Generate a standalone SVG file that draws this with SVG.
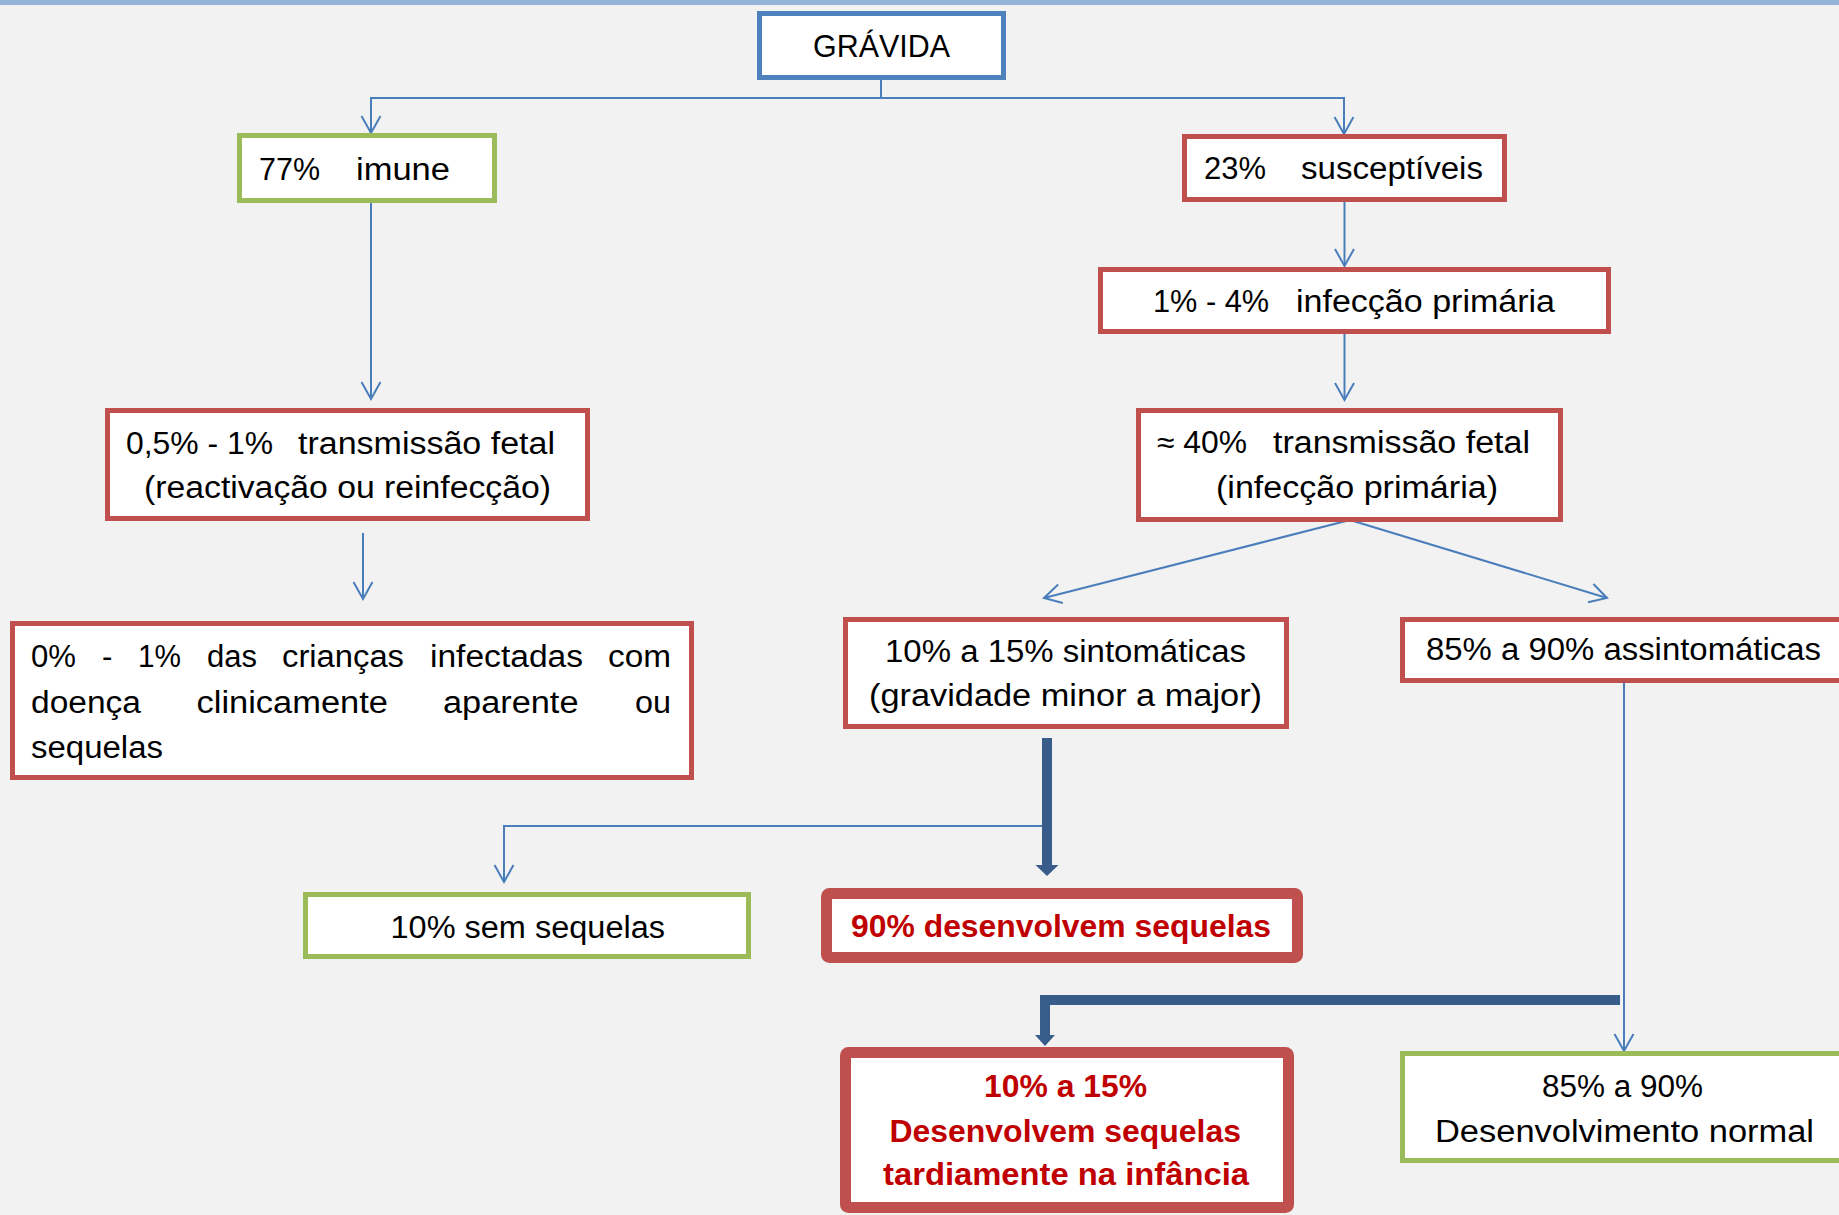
<svg xmlns="http://www.w3.org/2000/svg" width="1839" height="1215" viewBox="0 0 1839 1215">
<style>
text{font-family:"Liberation Sans",Arial,sans-serif;font-size:31px;fill:#000}
.b{font-weight:bold;fill:#C00000}
.box{fill:#fff;stroke-width:5}
.blue{stroke:#4F81BD}
.red{stroke:#C0504D}
.green{stroke:#9BBB59}
.thickred{fill:#fff;stroke:#C0504D;stroke-width:11}
.thin{fill:none;stroke:#4A7EBB;stroke-width:2}
.thick{fill:none;stroke:#385D8A;stroke-width:10}
</style>
<defs>
<marker id="open" markerUnits="userSpaceOnUse" viewBox="-20 -12 22 24" markerWidth="22" markerHeight="24" refX="0" refY="0" orient="auto" overflow="visible">
<path d="M-17,-9.5 L0,0 L-17,9.5" fill="none" stroke="#4A7EBB" stroke-width="2"/>
</marker>
</defs>
<rect x="0" y="0" width="1839" height="1215" fill="#F2F2F2"/>
<rect x="0" y="0" width="1839" height="5" fill="#95B3D7"/>

<g id="connectors">
<path class="thin" d="M881,80 V98"/>
<path class="thin" d="M881,98 H371 V133" marker-end="url(#open)"/>
<path class="thin" d="M881,98 H1344 V134" marker-end="url(#open)"/>
<path class="thin" d="M371,203 V399" marker-end="url(#open)"/>
<path class="thin" d="M1344.5,202 V266" marker-end="url(#open)"/>
<path class="thin" d="M1344.5,334 V400" marker-end="url(#open)"/>
<path class="thin" d="M363,533 V599" marker-end="url(#open)"/>
<path class="thin" d="M1350,520 L1044,598" marker-end="url(#open)"/>
<path class="thin" d="M1350,520 L1607,598" marker-end="url(#open)"/>
<path class="thin" d="M1047,826 H504 V882" marker-end="url(#open)"/>
<path class="thin" d="M1624,683 V1051" marker-end="url(#open)"/>
<path class="thick" d="M1047,738 V866"/>
<polygon points="1035.5,865 1058.5,865 1047,876" fill="#385D8A"/>
<path class="thick" d="M1620,1000 H1045 V1036" stroke-linecap="butt"/>
<polygon points="1035,1035 1055,1035 1045,1046" fill="#385D8A"/>
</g>

<g id="gravida">
<rect class="box blue" x="759.5" y="13.5" width="244" height="64"/>
<text x="813" y="57" textLength="137" lengthAdjust="spacingAndGlyphs">GRÁVIDA</text>
</g>
<g id="imune">
<rect class="box green" x="239.5" y="135.5" width="255" height="65"/>
<text x="259" y="180" textLength="61" lengthAdjust="spacingAndGlyphs">77%</text>
<text x="356" y="180" textLength="94" lengthAdjust="spacingAndGlyphs">imune</text>
</g>
<g id="susceptiveis">
<rect class="box red" x="1184.5" y="136.5" width="320" height="63"/>
<text x="1204" y="179" textLength="62" lengthAdjust="spacingAndGlyphs">23%</text>
<text x="1301" y="179" textLength="182" lengthAdjust="spacingAndGlyphs">susceptíveis</text>
</g>
<g id="infeccao">
<rect class="box red" x="1100.5" y="269.5" width="508" height="62"/>
<text x="1153" y="312" textLength="116" lengthAdjust="spacingAndGlyphs">1% - 4%</text>
<text x="1296" y="312" textLength="259" lengthAdjust="spacingAndGlyphs">infecção primária</text>
</g>
<g id="transmissao-reactivacao">
<rect class="box red" x="107.5" y="410.5" width="480" height="108"/>
<text x="126" y="454" textLength="147" lengthAdjust="spacingAndGlyphs">0,5% - 1%</text>
<text x="298" y="454" textLength="257" lengthAdjust="spacingAndGlyphs">transmissão fetal</text>
<text x="144" y="498" textLength="407" lengthAdjust="spacingAndGlyphs">(reactivação ou reinfecção)</text>
</g>
<g id="criancas">
<rect class="box red" x="12.5" y="623.5" width="679" height="154"/>
<text x="31" y="667" textLength="45" lengthAdjust="spacingAndGlyphs">0%</text>
<text x="102" y="667">-</text>
<text x="138" y="667" textLength="43" lengthAdjust="spacingAndGlyphs">1%</text>
<text x="207" y="667" textLength="50" lengthAdjust="spacingAndGlyphs">das</text>
<text x="282" y="667" textLength="122" lengthAdjust="spacingAndGlyphs">crianças</text>
<text x="430" y="667" textLength="153" lengthAdjust="spacingAndGlyphs">infectadas</text>
<text x="608" y="667" textLength="63" lengthAdjust="spacingAndGlyphs">com</text>
<text x="31" y="713" textLength="110" lengthAdjust="spacingAndGlyphs">doença</text>
<text x="196.5" y="713" textLength="191.5" lengthAdjust="spacingAndGlyphs">clinicamente</text>
<text x="443" y="713" textLength="135.5" lengthAdjust="spacingAndGlyphs">aparente</text>
<text x="635" y="713" textLength="36" lengthAdjust="spacingAndGlyphs">ou</text>
<text x="31" y="758" textLength="132" lengthAdjust="spacingAndGlyphs">sequelas</text>
</g>
<g id="transmissao-primaria">
<rect class="box red" x="1138.5" y="410.5" width="422" height="109"/>
<text x="1157" y="453" textLength="90" lengthAdjust="spacingAndGlyphs">≈ 40%</text>
<text x="1273" y="453" textLength="257" lengthAdjust="spacingAndGlyphs">transmissão fetal</text>
<text x="1216" y="498" textLength="282" lengthAdjust="spacingAndGlyphs">(infecção primária)</text>
</g>
<g id="sintomaticas">
<rect class="box red" x="845.5" y="619.5" width="441" height="107"/>
<text x="885" y="662" textLength="361" lengthAdjust="spacingAndGlyphs">10% a 15% sintomáticas</text>
<text x="869" y="706" textLength="393" lengthAdjust="spacingAndGlyphs">(gravidade minor a major)</text>
</g>
<g id="assintomaticas">
<rect class="box red" x="1402.5" y="619.5" width="460" height="61"/>
<text x="1426" y="660" textLength="395" lengthAdjust="spacingAndGlyphs">85% a 90% assintomáticas</text>
</g>
<g id="sem-sequelas">
<rect class="box green" x="305.5" y="894.5" width="443" height="62"/>
<text x="390.5" y="938" textLength="274.5" lengthAdjust="spacingAndGlyphs">10% sem sequelas</text>
</g>
<g id="desenvolvem-sequelas">
<rect class="thickred" x="826.5" y="893.5" width="471" height="64" rx="3"/>
<text class="b" x="851" y="937" textLength="420" lengthAdjust="spacingAndGlyphs">90% desenvolvem sequelas</text>
</g>
<g id="tardiamente">
<rect class="thickred" x="845.5" y="1052.5" width="443" height="155" rx="3"/>
<text class="b" x="984" y="1097" textLength="163" lengthAdjust="spacingAndGlyphs">10% a 15%</text>
<text class="b" x="889.5" y="1142" textLength="351.5" lengthAdjust="spacingAndGlyphs">Desenvolvem sequelas</text>
<text class="b" x="883" y="1185" textLength="366" lengthAdjust="spacingAndGlyphs">tardiamente na infância</text>
</g>
<g id="normal">
<rect class="box green" x="1402.5" y="1053.5" width="460" height="107"/>
<text x="1542" y="1097" textLength="161" lengthAdjust="spacingAndGlyphs">85% a 90%</text>
<text x="1435" y="1142" textLength="379" lengthAdjust="spacingAndGlyphs">Desenvolvimento normal</text>
</g>
</svg>
